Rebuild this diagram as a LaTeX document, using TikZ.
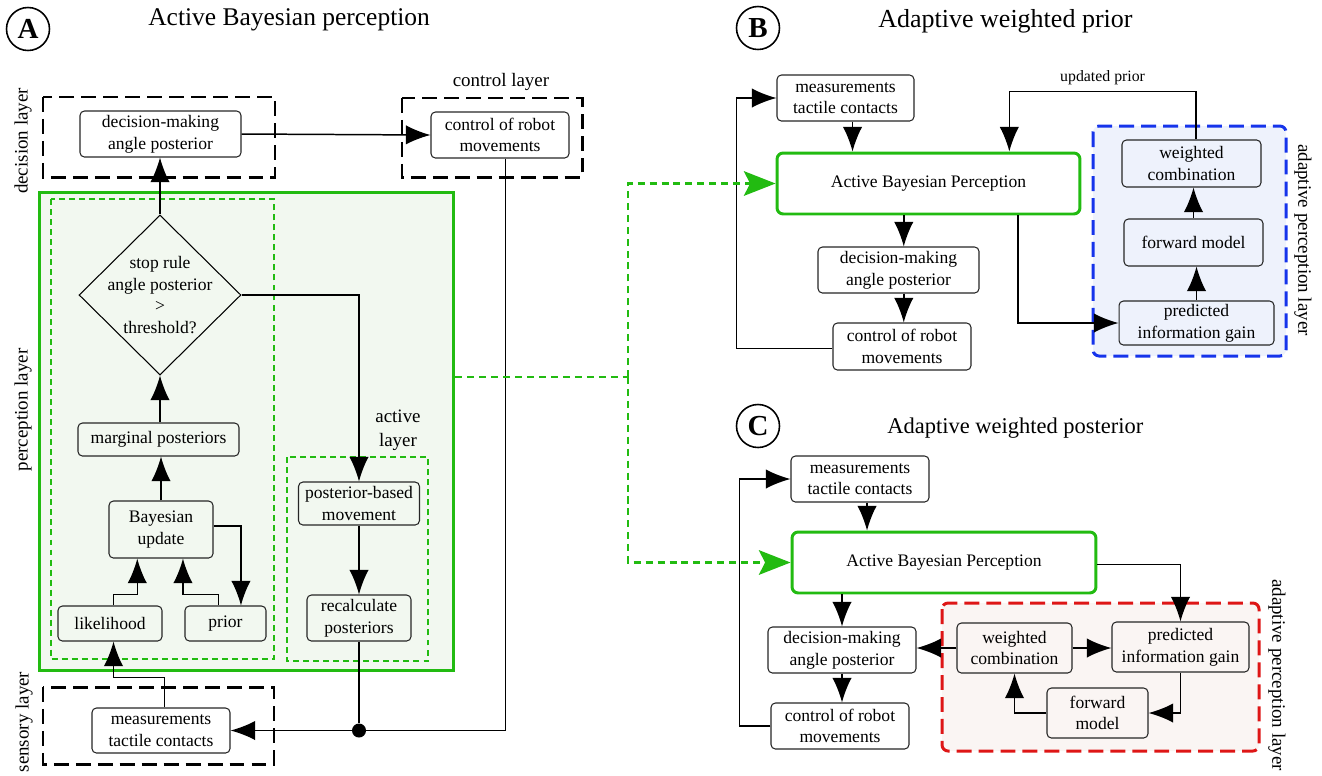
\documentclass[tikz,border=0pt]{standalone}
\usepackage{fontspec}
\setmainfont{Liberation Serif}
\usepackage{tikz}
\usetikzlibrary{arrows.meta,shapes.geometric,calc}
\definecolor{pgreen}{RGB}{34,187,17}
\definecolor{pfill}{RGB}{242,248,240}
\definecolor{pblue}{RGB}{22,52,235}
\definecolor{bfill}{RGB}{238,242,252}
\definecolor{pred}{RGB}{222,22,22}
\definecolor{rfill}{RGB}{250,245,243}

\begin{document}
\begin{tikzpicture}[x=0.02cm,y=-0.02cm]
\tikzstyle{txt}=[align=center,font=\rmfamily\fontsize{10}{12.3}\selectfont]
\tikzstyle{box}=[txt,draw=black!85,rounded corners=2.5pt,line width=0.6pt,inner sep=0pt]
\tikzstyle{abp}=[box,draw=pgreen,line width=1.7pt,rounded corners=3.5pt,fill=white]
\tikzstyle{arr}=[-{Latex[length=14pt,width=11pt]},line width=0.85pt]
\tikzstyle{layer}=[dash pattern=on 8.5pt off 4pt,line width=1.7pt]
\tikzstyle{bdash}=[layer,draw=pblue,fill=bfill,rounded corners=3.5pt]
\tikzstyle{rdash}=[layer,draw=pred,fill=rfill,rounded corners=3.5pt]
\tikzstyle{gdash}=[pgreen,dash pattern=on 3.4pt off 2.3pt,line width=1.1pt]
\tikzstyle{glink}=[pgreen,dash pattern=on 4pt off 2.8pt,line width=1.4pt]
\tikzstyle{garr}=[glink,-{Stealth[length=18pt,width=14pt,inset=3.5pt]}]
\tikzstyle{lab}=[align=center,font=\rmfamily\fontsize{10.8}{13.6}\selectfont]
\tikzstyle{letter}=[circle,draw,line width=0.9pt,minimum size=0.86cm,inner sep=0pt,font=\rmfamily\fontsize{16.5}{16.5}\selectfont\bfseries]
\tikzstyle{ttl}=[anchor=base west,inner sep=0pt]
\useasboundingbox (0,0) rectangle (1322,775);

\node[letter] (cA) at (28,29) {A};
\node[ttl,font=\fontsize{14.5}{16}\selectfont] (tA) at (148,25) {Active Bayesian perception};
\draw[layer] (43,97) rectangle (275,177);
\node[lab,rotate=90] (ldec) at (23,141) {decision layer};
\draw[layer] (402,98) rectangle (582,177);
\node[lab] (lctrl) at (501,82) {control layer};
\draw[layer] (43,687) rectangle (274,764);
\node[lab,rotate=90] (lsens) at (24,722) {sensory layer};
\node[box,minimum width=3.22cm,minimum height=0.92cm] (decA) at (160.5,134) {decision-making\\angle posterior};
\node[box,minimum width=2.76cm,minimum height=0.92cm] (ctrlA) at (500,135) {control of robot\\movements};
\draw[arr] (decA.east) -- (ctrlA.west);

\node[draw=pgreen,fill=pfill,line width=1.7pt,minimum width=8.3cm,minimum height=9.58cm,inner sep=0pt] (perc) at (246.5,431.5) {};
\node[lab,rotate=90] (lperc) at (23,410) {perception layer};
\draw[gdash] (51,199) rectangle (274,659);
\draw[gdash] (287,457) rectangle (428,661);
\node[lab] (lact) at (398,430) {active\\layer};

\node[diamond,draw,line width=0.6pt,minimum width=3.24cm,minimum height=3.2cm,inner sep=0pt,
  label={[txt]center:stop rule\\angle posterior\\>\\threshold?}] (stop) at (160,295) {};
\draw[arr] (stop.north) -- (stop.north |- decA.south);
\node[box,minimum width=3.22cm,minimum height=0.66cm] (marg) at (158.5,439.5) {marginal posteriors};
\draw[arr] (marg.north -| stop.south) -- (stop.south);
\node[box,minimum width=2.08cm,minimum height=1.14cm] (bayes) at (161,529.5) {Bayesian\\update};
\draw[arr] (bayes.north) -- (bayes.north |- marg.south);
\node[box,minimum width=2.08cm,minimum height=0.7cm] (lik) at (110,623.5) {likelihood};
\node[box,minimum width=1.62cm,minimum height=0.7cm] (prior) at (225.5,623.5) {prior};
\draw[arr] ([xshift=2pt]lik.north) -- ++(0,-11) -| ([xshift=-13.5pt]bayes.south);
\draw[arr] ([xshift=-4pt]prior.north) -- ++(0,-11) -| ([xshift=12.5pt]bayes.south);
\draw[arr] ([yshift=2pt]bayes.east) -| ([xshift=8.8pt]prior.north);
\node[box,minimum width=2.42cm,minimum height=0.86cm] (pbm) at (359,503.5) {posterior-based\\movement};
\draw[arr] (stop.east) -| (pbm.north);
\node[box,minimum width=2.08cm,minimum height=0.92cm] (recalc) at (359,618) {recalculate\\posteriors};
\draw[arr] (pbm.south) -- (recalc.north);
\node[box,fill=white,minimum width=2.76cm,minimum height=0.9cm] (measA) at (161,730.5) {measurements\\tactile contacts};
\draw[arr] ([xshift=2pt]measA.north) -- ++(0,-30) -| ([xshift=2pt]lik.south);
\node[circle,fill,inner sep=0pt,minimum size=0.28cm] (junc) at (recalc.south |- measA.east) {};
\draw[line width=0.85pt] (recalc.south) -- (junc);
\draw[line width=0.85pt] ([xshift=3pt]ctrlA.south) |- (junc);
\draw[arr] (junc) -- (measA.east);

\node[letter] (cB) at (758,28) {B};
\node[ttl,font=\fontsize{14.8}{16}\selectfont] (tB) at (878,27) {Adaptive weighted prior};
\draw[bdash] (1093,126) rectangle (1286,356);
\node[lab,rotate=-90] (lapB) at (1303,240) {adaptive perception layer};
\node[box,fill=white,minimum width=2.74cm,minimum height=0.92cm] (measB) at (845.5,98) {measurements\\tactile contacts};
\node[abp,minimum width=6.06cm,minimum height=1.22cm] (abpB) at (928.5,183.5) {Active Bayesian Perception};
\node[box,fill=white,minimum width=3.22cm,minimum height=0.92cm] (decB) at (898.5,270) {decision-making\\angle posterior};
\node[box,fill=white,minimum width=2.76cm,minimum height=0.94cm] (ctrlB) at (902,346.5) {control of robot\\movements};
\node[box,minimum width=2.78cm,minimum height=0.94cm] (wcB) at (1191.5,163.5) {weighted\\combination};
\node[box,minimum width=2.78cm,minimum height=0.94cm] (fmB) at (1193.5,242.5) {forward model};
\node[box,minimum width=3.1cm,minimum height=0.88cm] (predB) at (1196.5,323) {predicted\\information gain};
\draw[arr] ([xshift=4pt]measB.south) -- ([xshift=4pt]measB.south |- abpB.north);
\draw[arr] ([xshift=3pt]decB.north |- abpB.south) -- ([xshift=3pt]decB.north);
\draw[arr] ([xshift=3pt]decB.south) -- ([xshift=3pt]decB.south |- ctrlB.north);
\draw[arr] ([yshift=-1pt]ctrlB.west) -- ++(-96,0) |- (measB.west);
\draw[arr] ([xshift=51pt]abpB.south) |- (predB.west);
\draw[arr] (predB.north) -- (predB.north |- fmB.south);
\draw[arr] (fmB.north) -- (fmB.north |- wcB.south);
\draw[arr] ([xshift=2.5pt]wcB.north) -- ++(0,-48) -| ([xshift=46pt]abpB.north)
  node[pos=0.25,above,font=\rmfamily\fontsize{9}{10}\selectfont] {updated prior};

\node[letter] (cC) at (758,426) {C};
\node[ttl,font=\fontsize{12.8}{14}\selectfont] (tC) at (887,433) {Adaptive weighted posterior};
\draw[rdash] (942,603) rectangle (1259,751);
\node[lab,rotate=-90] (lapC) at (1277,675) {adaptive perception layer};
\node[box,fill=white,minimum width=2.76cm,minimum height=0.92cm] (measC) at (860,479) {measurements\\tactile contacts};
\node[abp,minimum width=6.08cm,minimum height=1.22cm] (abpC) at (944,562.5) {Active Bayesian Perception};
\node[box,fill=white,minimum width=2.96cm,minimum height=0.92cm] (decC) at (842,650) {decision-making\\angle posterior};
\node[box,fill=white,minimum width=2.76cm,minimum height=0.92cm] (ctrlC) at (840,726) {control of robot\\movements};
\node[box,minimum width=2.3cm,minimum height=1cm] (wcC) at (1014.5,648) {weighted\\combination};
\node[box,minimum width=2.74cm,minimum height=1cm] (predC) at (1180.5,647) {predicted\\information gain};
\node[box,minimum width=2.02cm,minimum height=1cm] (fmC) at (1097.5,713) {forward\\model};
\draw[arr] ([xshift=4pt]measC.south) -- ([xshift=4pt]measC.south |- abpC.north);
\draw[arr] (abpC.south -| decC.north) -- (decC.north);
\draw[arr] (decC.south) -- (decC.south |- ctrlC.north);
\draw[arr] (ctrlC.west) -- ++(-31,0) |- (measC.west);
\draw[arr] (wcC.west) -- (wcC.west -| decC.east);
\draw[arr] (wcC.east) -- (wcC.east -| predC.west);
\draw[arr] ([yshift=-1pt]abpC.east) -| (predC.north);
\draw[arr] (predC.south) |- (fmC.east);
\draw[arr] (fmC.west) -| (wcC.south);

\coordinate (split) at (628,377);
\draw[glink] (split -| perc.east) -- (split);
\draw[garr] (split) |- (abpB.west);
\draw[garr] (split) |- (abpC.west);
\end{tikzpicture}
\end{document}
